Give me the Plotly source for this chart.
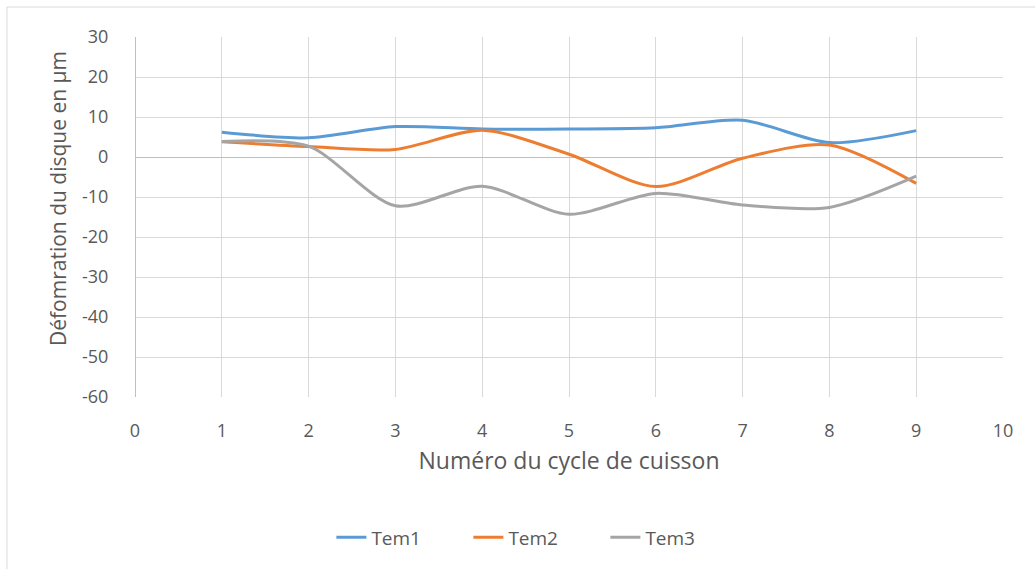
import plotly.graph_objects as go

# Cycle numbers and measured disc deformation (µm) for each test
cycles = [1, 2, 3, 4, 5, 6, 7, 8, 9]
tem1 = [6.2, 4.8, 7.6, 7.0, 7.0, 7.3, 9.2, 3.6, 6.6]
tem2 = [3.8, 2.6, 1.9, 6.7, 0.7, -7.4, -0.3, 3.0, -6.6]
tem3 = [3.9, 2.7, -12.2, -7.3, -14.3, -9.1, -12.0, -12.6, -4.8]

x_ticks = [0, 1, 2, 3, 4, 5, 6, 7, 8, 9, 10]
y_ticks = [30, 20, 10, 0, -10, -20, -30, -40, -50, -60]
y_tick_text = ["30", "20", "10", "0", "-10", "-20", "-30", "-40", "-50", "-60"]

series = [("Tem1", tem1, "#5B9BD5"), ("Tem2", tem2, "#ED7D31"), ("Tem3", tem3, "#A5A5A5")]

font_family = "Open Sans, Liberation Sans, sans-serif"
text_col = "#595959"

fig = go.Figure()
for name, vals, col in series:
    fig.add_trace(go.Scatter(
        x=cycles, y=vals, name=name, mode="lines",
        line=dict(color=col, width=3, shape="spline", smoothing=0.8),
    ))

fig.update_layout(
    width=1035, height=569,
    margin=dict(l=135, r=32, t=37, b=172),
    paper_bgcolor="white", plot_bgcolor="white",
    font=dict(family=font_family, color=text_col, size=18),
    showlegend=True,
    legend=dict(orientation="h", x=0.463, xanchor="center", y=-0.39, yanchor="middle",
                font=dict(size=19, color=text_col), entrywidth=92, entrywidthmode="pixels",
                tracegroupgap=0),
    xaxis=dict(range=[0, 10], tickvals=x_ticks, ticktext=[str(v) for v in x_ticks],
               showgrid=True, gridcolor="#D9D9D9", gridwidth=1,
               zeroline=True, zerolinecolor="#BFBFBF", zerolinewidth=1,
               showline=False, ticks="outside", ticklen=17, tickcolor="rgba(0,0,0,0)",
               tickfont=dict(size=18, color=text_col),
               title=dict(text="Numéro du cycle de cuisson", font=dict(size=23, color=text_col), standoff=12)),
    yaxis=dict(range=[-60, 30], tickvals=y_ticks, ticktext=y_tick_text,
               showgrid=True, gridcolor="#D9D9D9", gridwidth=1,
               zeroline=True, zerolinecolor="#BFBFBF", zerolinewidth=1,
               showline=False, ticks="outside", ticklen=22, tickcolor="rgba(0,0,0,0)",
               tickfont=dict(size=18, color=text_col)),
    annotations=[dict(text="Défomration du disque en µm", textangle=-90,
                      xref="paper", yref="paper", x=-0.0887, y=0.55,
                      xanchor="center", yanchor="middle", showarrow=False,
                      font=dict(size=21, color=text_col))],
    shapes=[dict(type="rect", xref="paper", yref="paper",
                 x0=-0.1475, x1=1.06, y0=-0.6, y1=1.0833,
                 line=dict(color="#D9D9D9", width=1), fillcolor="rgba(0,0,0,0)", layer="below")],
)

fig.write_html("out.html")
